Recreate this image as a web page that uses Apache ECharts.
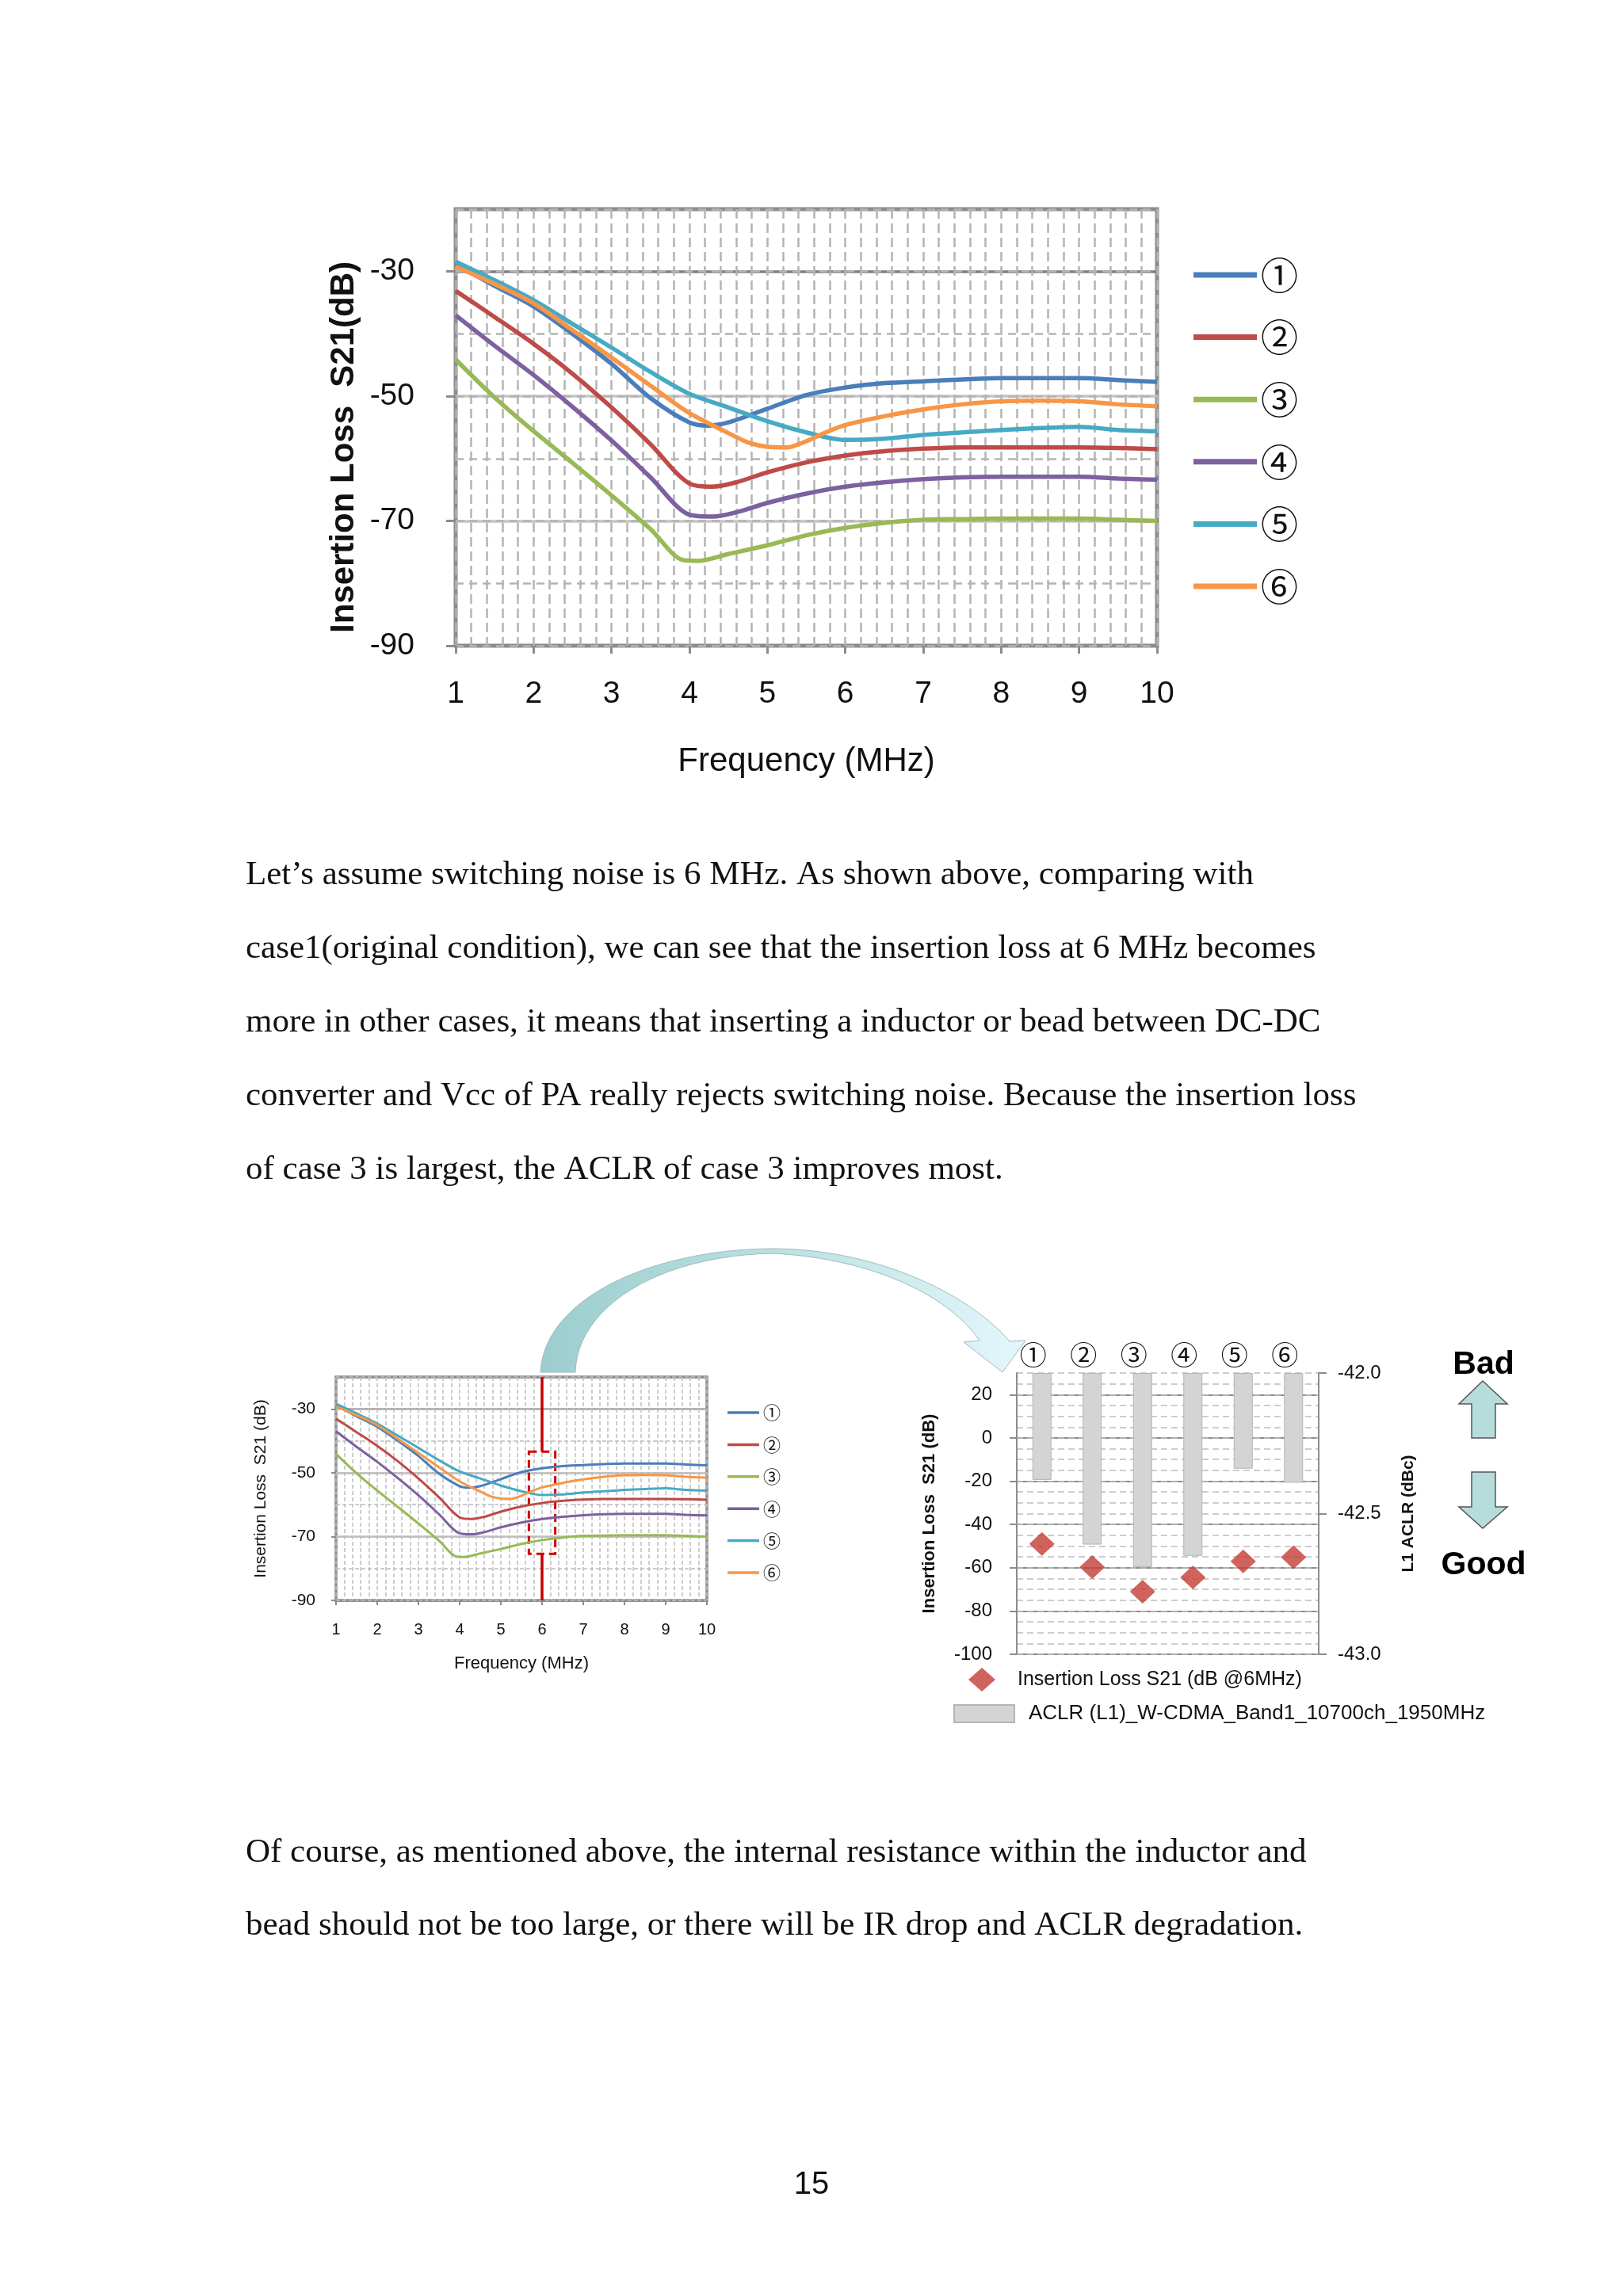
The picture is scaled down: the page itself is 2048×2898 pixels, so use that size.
<!DOCTYPE html>
<html>
<head>
<meta charset="utf-8">
<title>Insertion loss / ACLR</title>
<script src="https://cdn.jsdelivr.net/npm/echarts@6.0.0/dist/echarts.min.js"></script>
<style>
  html, body { margin: 0; padding: 0; background: #fff; }
  #main { width: 2048px; height: 2898px; }
</style>
</head>
<body>
<div id="main"></div>
<script>
var cases = ['①', '②', '③', '④', '⑤', '⑥'];

// S21 (dB) vs frequency (MHz), one list per case
var s21Case1 = [[1,-28.8],[1.5,-32.3],[2,-35.6],[2.5,-40.0],[3,-44.8],[3.5,-50.3],[4,-54.2],[4.25,-54.7],[4.5,-54.2],[5,-52.0],[5.5,-49.8],[6,-48.6],[6.5,-47.9],[7,-47.6],[7.5,-47.3],[8,-47.1],[8.5,-47.1],[9,-47.1],[9.5,-47.4],[10,-47.7]];
var s21Case2 = [[1,-33.1],[1.5,-37.3],[2,-41.6],[2.5,-46.4],[3,-51.8],[3.5,-57.7],[4,-64.0],[4.3,-64.5],[4.6,-63.8],[5,-62.2],[5.5,-60.6],[6,-59.5],[6.5,-58.8],[7,-58.4],[7.5,-58.2],[8,-58.2],[9,-58.2],[9.5,-58.3],[10,-58.5]];
var s21Case3 = [[1,-44.1],[1.5,-50.2],[2,-55.6],[2.5,-60.7],[3,-65.9],[3.5,-71.3],[3.9,-76.2],[4.1,-76.4],[4.5,-75.3],[5,-73.9],[5.5,-72.3],[6,-71.1],[6.5,-70.3],[7,-69.8],[7.5,-69.7],[8,-69.6],[9,-69.6],[9.5,-69.8],[10,-70.0]];
var s21Case4 = [[1,-37.0],[1.5,-41.9],[2,-46.6],[2.5,-51.7],[3,-57.1],[3.5,-63.0],[4,-69.0],[4.3,-69.3],[4.6,-68.6],[5,-67.1],[5.5,-65.6],[6,-64.5],[6.5,-63.8],[7,-63.3],[7.5,-63.0],[8,-62.9],[9,-62.9],[9.5,-63.2],[10,-63.4]];
var s21Case5 = [[1,-28.4],[1.5,-31.4],[2,-34.6],[2.5,-38.4],[3,-42.2],[3.5,-46.1],[4,-49.6],[4.5,-51.8],[5,-54.0],[5.5,-55.8],[6,-57.0],[6.5,-56.8],[7,-56.2],[7.5,-55.8],[8,-55.4],[8.5,-55.1],[9,-54.9],[9.5,-55.4],[10,-55.6]];
var s21Case6 = [[1,-29.2],[1.5,-32.0],[2,-35.1],[2.5,-39.4],[3,-43.8],[3.5,-48.3],[4,-52.7],[4.5,-55.9],[4.75,-57.4],[5,-58.1],[5.25,-58.2],[5.5,-57.2],[5.75,-55.8],[6,-54.6],[6.5,-53.2],[7,-52.1],[7.5,-51.3],[8,-50.8],[8.5,-50.7],[9,-50.8],[9.5,-51.3],[10,-51.6]];
var s21Curves = [s21Case1, s21Case2, s21Case3, s21Case4, s21Case5, s21Case6];

// values at 6 MHz per case
var s21At6MHz = [-49.0, -59.7, -71.1, -64.5, -57.1, -55.1];
var aclrL1 = [-42.38, -42.61, -42.69, -42.65, -42.34, -42.39];

var s21Name = 'Insertion Loss S21 (dB @6MHz)';
var aclrName = 'ACLR (L1)_W-CDMA_Band1_10700ch_1950MHz';

var para1 = [
  'Let’s assume switching noise is 6 MHz. As shown above, comparing with',
  'case1(original condition), we can see that the insertion loss at 6 MHz becomes',
  'more in other cases, it means that inserting a inductor or bead between DC-DC',
  'converter and Vcc of PA really rejects switching noise. Because the insertion loss',
  'of case 3 is largest, the ACLR of case 3 improves most.'
];
var para2 = [
  'Of course, as mentioned above, the internal resistance within the inductor and',
  'bead should not be too large, or there will be IR drop and ACLR degradation.'
];
var pageNo = '15';

var colors = ['#4A7EBB', '#BE4B48', '#98B954', '#7D60A0', '#46AAC5', '#F79646'];
var sansFont = '"Liberation Sans", Arial, sans-serif';
var cjkFont = '"Noto Sans CJK JP", "Noto Sans CJK SC", sans-serif';

var chart = echarts.init(document.getElementById('main'));

function cubic(p0, p1, p2, p3, n) {
  var pts = [];
  for (var i = 0; i <= n; i++) {
    var t = i / n, u = 1 - t;
    pts.push([u*u*u*p0[0] + 3*u*u*t*p1[0] + 3*u*t*t*p2[0] + t*t*t*p3[0],
              u*u*u*p0[1] + 3*u*u*t*p1[1] + 3*u*t*t*p2[1] + t*t*t*p3[1]]);
  }
  return pts;
}

// curved callout arrow from the small chart to the bar chart
var arrowPts = [].concat(
  cubic([682,1732],[686,1640],[820,1577],[975,1576],24),
  cubic([975,1576],[1100,1576],[1220,1630],[1274,1693],24),
  [[1294,1692],[1265,1732],[1216,1694]],
  cubic([1236,1692],[1195,1632],[1095,1588],[975,1582],24),
  cubic([975,1582],[830,1585],[728,1650],[726,1732],24)
);

var serif = '"Liberation Serif", serif';
var graphics = [];
para1.forEach(function(t, i) {
  graphics.push({ type: 'text', x: 310, y: 1105 + i * 93,
    style: { text: t, fontSize: 43, fontFamily: serif, fill: '#111', verticalAlign: 'middle' } });
});
para2.forEach(function(t, i) {
  graphics.push({ type: 'text', x: 310, y: 2339 + i * 92,
    style: { text: t, fontSize: 43, fontFamily: serif, fill: '#111', verticalAlign: 'middle' } });
});
graphics.push({ type: 'text', x: 1024, y: 2758,
  style: { text: pageNo, fontSize: 40, fontFamily: sansFont, fill: '#111', align: 'center', verticalAlign: 'middle' } });
graphics.push({ type: 'polygon', z: 10, shape: { points: arrowPts },
  style: { fill: new echarts.graphic.LinearGradient(0, 0, 1, 0, [
      { offset: 0, color: '#9ccdce' }, { offset: 0.45, color: '#b8dfe1' }, { offset: 1, color: '#e3f7fb' }]),
    stroke: '#9fbcbe', lineWidth: 1 } });
graphics.push({ type: 'text', x: 1872, y: 1723,
  style: { text: 'Bad', fontSize: 41, fontWeight: 'bold', fontFamily: sansFont, fill: '#000', align: 'center', verticalAlign: 'middle' } });
graphics.push({ type: 'text', x: 1872, y: 1976,
  style: { text: 'Good', fontSize: 41, fontWeight: 'bold', fontFamily: sansFont, fill: '#000', align: 'center', verticalAlign: 'middle' } });
graphics.push({ type: 'polygon', shape: { points: [[1871,1743],[1902,1772],[1887,1772],[1887,1815],[1857,1815],[1857,1772],[1841,1772]] },
  style: { fill: '#b7dcdc', stroke: '#555', lineWidth: 1.5 } });
graphics.push({ type: 'polygon', shape: { points: [[1857,1858],[1887,1858],[1887,1902],[1902,1902],[1871,1929],[1841,1902],[1857,1902]] },
  style: { fill: '#b7dcdc', stroke: '#555', lineWidth: 1.5 } });

var series = [];
s21Curves.forEach(function(d, i) {
  series.push({ type: 'line', name: cases[i], xAxisIndex: 0, yAxisIndex: 0, data: d,
    smooth: 0.3, showSymbol: false, lineStyle: { width: 5.5, color: colors[i] }, itemStyle: { color: colors[i] } });
});
s21Curves.forEach(function(d, i) {
  var s = { type: 'line', name: cases[i], xAxisIndex: 1, yAxisIndex: 2, data: d,
    smooth: 0.3, showSymbol: false, lineStyle: { width: 3, color: colors[i] }, itemStyle: { color: colors[i] } };
  if (i === 0) {
    s.markLine = { silent: true, symbol: 'none', label: { show: false },
      lineStyle: { color: '#c00000', width: 3.5, type: 'solid' },
      data: [[{ coord: [6, -20] }, { coord: [6, -43.4] }], [{ coord: [6, -75.4] }, { coord: [6, -90] }]] };
    s.markArea = { silent: true,
      itemStyle: { color: 'rgba(0,0,0,0)', borderColor: '#d00000', borderWidth: 3, borderType: [10, 6] },
      data: [[{ coord: [5.68, -43.4] }, { coord: [6.32, -75.4] }]] };
  }
  series.push(s);
});
series.push({ type: 'bar', name: aclrName, xAxisIndex: 2, yAxisIndex: 5, data: aclrL1, barWidth: 24,
  itemStyle: { color: '#d4d4d4', borderColor: '#b4b4b4', borderWidth: 1 }, z: 2 });
series.push({ type: 'scatter', name: s21Name, xAxisIndex: 2, yAxisIndex: 4, data: s21At6MHz,
  symbol: 'diamond', symbolSize: [32, 30], itemStyle: { color: '#c43c35' }, z: 3 });

var option = {
  backgroundColor: '#fff',
  animation: false,
  textStyle: { fontFamily: sansFont },
  graphic: { elements: graphics },
  legend: [
    { data: cases, orient: 'vertical', left: 1501, top: 317, itemWidth: 80, itemHeight: 7, itemGap: 28.6,
      icon: 'rect', selectedMode: false,
      textStyle: { fontSize: 47, lineHeight: 50, fontFamily: cjkFont, color: '#111' } },
    { data: cases, orient: 'vertical', left: 913, top: 1766, itemWidth: 40, itemHeight: 3.5, itemGap: 16.4,
      icon: 'rect', selectedMode: false,
      textStyle: { fontSize: 22, lineHeight: 24, fontFamily: cjkFont, color: '#111' } },
    { data: [s21Name], left: 1217, top: 2100, icon: 'diamond', itemWidth: 34, itemHeight: 30, selectedMode: false,
      textStyle: { fontSize: 25, color: '#111', padding: [0, 0, 0, 23] } },
    { data: [aclrName], left: 1198, top: 2145, icon: 'rect', itemWidth: 76, itemHeight: 22, selectedMode: false,
      textStyle: { fontSize: 26, color: '#111', padding: [0, 0, 0, 13] } }
  ],
  grid: [
    { left: 575, top: 264, width: 885, height: 551, show: true, borderColor: '#8c8c8c', borderWidth: 5, backgroundColor: '#fff' },
    { left: 424, top: 1738, width: 468, height: 282, show: true, borderColor: '#8c8c8c', borderWidth: 3.5, backgroundColor: '#fff' },
    { left: 1283, top: 1733, width: 381, height: 355 }
  ],
  xAxis: [
    { gridIndex: 0, type: 'value', min: 1, max: 10, interval: 1,
      axisLine: { show: false },
      axisTick: { show: true, length: 10, lineStyle: { color: '#8c8c8c', width: 3 } },
      axisLabel: { margin: 42, fontSize: 39, color: '#111' },
      splitLine: { show: true, lineStyle: { color: '#b4b4b4', width: 2.5, type: [12, 6] } },
      minorTick: { show: false, splitNumber: 5 },
      minorSplitLine: { show: true, lineStyle: { color: '#b4b4b4', width: 2.5, type: [12, 6] } },
      name: 'Frequency (MHz)', nameLocation: 'middle', nameGap: 125,
      nameTextStyle: { fontSize: 42, color: '#111' } },
    { gridIndex: 1, type: 'value', min: 1, max: 10, interval: 1,
      axisLine: { show: false },
      axisTick: { show: true, length: 6, lineStyle: { color: '#8c8c8c', width: 2 } },
      axisLabel: { margin: 27, fontSize: 20, color: '#111' },
      splitLine: { show: true, lineStyle: { color: '#bdbdbd', width: 1.5, type: [5, 3] } },
      minorTick: { show: false, splitNumber: 5 },
      minorSplitLine: { show: true, lineStyle: { color: '#bdbdbd', width: 1.5, type: [5, 3] } },
      name: 'Frequency (MHz)', nameLocation: 'middle', nameGap: 69,
      nameTextStyle: { fontSize: 22, color: '#111' } },
    { gridIndex: 2, type: 'category', data: cases, position: 'top',
      axisLine: { show: false }, axisTick: { show: false },
      axisLabel: { margin: 6, fontSize: 34, fontFamily: cjkFont, color: '#111', padding: [0, 22, 0, 0] },
      splitLine: { show: false } }
  ],
  yAxis: [
    { gridIndex: 0, type: 'value', min: -90, max: -20, interval: 20,
      axisLine: { show: false },
      axisTick: { show: true, length: 12, lineStyle: { color: '#8c8c8c', width: 3 } },
      axisLabel: { margin: 52, fontSize: 39, color: '#111', showMaxLabel: false },
      splitLine: { show: true, lineStyle: { color: ['#8c8c8c', '#c4c4c4', '#c4c4c4', '#808080', '#8c8c8c'], width: 3.5 } },
      name: 'Insertion Loss  S21(dB)', nameLocation: 'middle', nameGap: 120,
      nameTextStyle: { fontSize: 42, fontWeight: 'bold', color: '#111', padding: [0, 50, 0, 0] } },
    { gridIndex: 0, type: 'value', min: -90, max: -20, interval: 10, position: 'left',
      axisLine: { show: false }, axisTick: { show: false }, axisLabel: { show: false },
      splitLine: { show: true, lineStyle: { color: '#b4b4b4', width: 2.5, type: [10, 7] } } },
    { gridIndex: 1, type: 'value', min: -90, max: -20, interval: 20,
      axisLine: { show: false },
      axisTick: { show: true, length: 6, lineStyle: { color: '#8c8c8c', width: 2 } },
      axisLabel: { margin: 26, fontSize: 21, color: '#111', showMaxLabel: false },
      splitLine: { show: true, lineStyle: { color: ['#8c8c8c', '#bdbdbd', '#bdbdbd', '#a0a0a0', '#8c8c8c'], width: 2.5 } },
      name: 'Insertion Loss  S21 (dB)', nameLocation: 'middle', nameGap: 84,
      nameTextStyle: { fontSize: 21, color: '#111' } },
    { gridIndex: 1, type: 'value', min: -90, max: -20, interval: 10, position: 'left',
      axisLine: { show: false }, axisTick: { show: false }, axisLabel: { show: false },
      splitLine: { show: true, lineStyle: { color: '#bdbdbd', width: 1.5, type: [5, 3] } } },
    { gridIndex: 2, type: 'value', position: 'left', min: -100, max: 30, interval: 20,
      axisLine: { show: true, lineStyle: { color: '#8c8c8c', width: 2 } },
      axisTick: { show: true, length: 9, lineStyle: { color: '#8c8c8c', width: 2 } },
      axisLabel: { margin: 31, fontSize: 24, color: '#111', showMaxLabel: false },
      splitLine: { show: true, lineStyle: { color: ['#8c8c8c','#8c8c8c','#8c8c8c','#8c8c8c','#8c8c8c','#8c8c8c','#8c8c8c','rgba(0,0,0,0)'], width: 2 } },
      name: 'Insertion Loss  S21 (dB)', nameLocation: 'middle', nameGap: 99,
      nameTextStyle: { fontSize: 22, fontWeight: 'bold', color: '#111' } },
    { gridIndex: 2, type: 'value', position: 'right', min: -43, max: -42, interval: 0.5, startValue: -42,
      axisLine: { show: true, lineStyle: { color: '#8c8c8c', width: 2 } },
      axisTick: { show: true, length: 10, lineStyle: { color: '#8c8c8c', width: 2 } },
      axisLabel: { margin: 24, fontSize: 24, color: '#111', formatter: function(v) { return v.toFixed(1); } },
      splitLine: { show: false },
      name: 'L1 ACLR (dBc)', nameLocation: 'middle', nameGap: 103,
      nameTextStyle: { fontSize: 21, fontWeight: 'bold', color: '#111' } },
    { gridIndex: 2, type: 'value', position: 'left', min: -100, max: 30, interval: 5,
      axisLine: { show: false }, axisTick: { show: false }, axisLabel: { show: false },
      splitLine: { show: true, lineStyle: { color: '#bdbdbd', width: 1.5, type: [8, 5] } } }
  ],
  series: series
};

chart.setOption(option);
</script>
</body>
</html>
